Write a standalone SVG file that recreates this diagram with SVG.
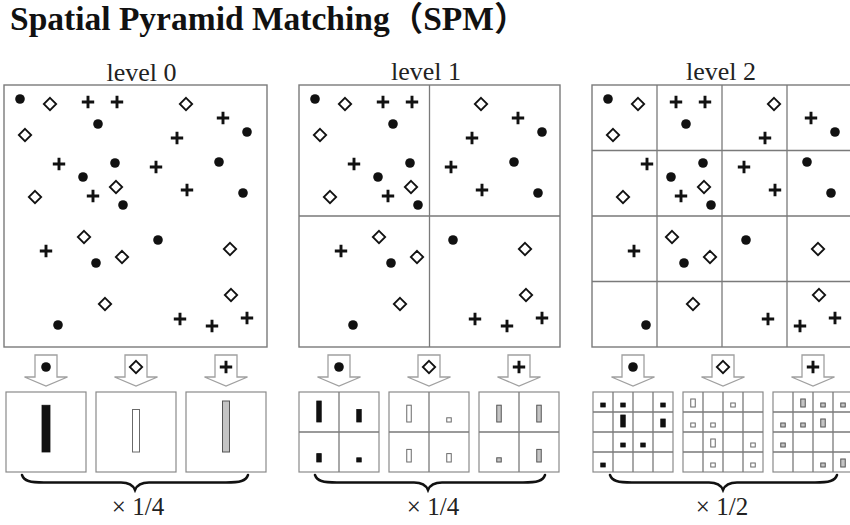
<svg xmlns="http://www.w3.org/2000/svg" xmlns:xlink="http://www.w3.org/1999/xlink" width="850" height="525" viewBox="0 0 850 525">
  <style>
    .title { font-family: "Liberation Serif", "Noto Sans CJK SC", serif; font-weight: bold; font-size: 33.5px; fill: #111; }
    .lvl { font-family: "Liberation Serif", serif; font-size: 26px; fill: #222; text-anchor: middle; }
    .wt { font-family: "Liberation Serif", serif; font-size: 25px; fill: #222; text-anchor: middle; }
    .frame { fill: #fff; stroke: #7a7a7a; stroke-width: 1.4; }
    .grid { fill: none; stroke: #7a7a7a; stroke-width: 1.3; }
    .hbox { fill: #fff; stroke: #8a8a8a; stroke-width: 1.2; }
    .arrow { fill: #fff; stroke: #a0a0a0; stroke-width: 1.3; stroke-linejoin: miter; }
    .brace { fill: none; stroke: #111; stroke-width: 2.5; stroke-linecap: round; }
    .b-black { fill: #111; stroke: #111; stroke-width: 0.8; }
    .b-white { fill: #fff; stroke: #6a6a6a; stroke-width: 1; }
    .b-gray { fill: #c4c4c4; stroke: #555; stroke-width: 1; }
  </style>
  <defs>
    <circle id="m-dot" r="4.8" fill="#111"/>
    <path id="m-dia" d="M0,-6.2 L6.2,0 L0,6.2 L-6.2,0 Z" fill="#fff" stroke="#111" stroke-width="1.8"/>
    <path id="m-plus" d="M-6.2,0 H6.2 M0,-6.2 V6.2" fill="none" stroke="#111" stroke-width="2.9"/>
    <!-- feature points of the image, drawn once and reused for every level -->
    <g id="pts">
      <use xlink:href="#m-dot" x="20" y="99"/>
      <use xlink:href="#m-dot" x="98" y="124"/>
      <use xlink:href="#m-dot" x="247" y="132"/>
      <use xlink:href="#m-dot" x="115" y="163"/>
      <use xlink:href="#m-dot" x="219" y="162"/>
      <use xlink:href="#m-dot" x="83" y="177"/>
      <use xlink:href="#m-dot" x="243" y="193"/>
      <use xlink:href="#m-dot" x="123" y="205"/>
      <use xlink:href="#m-dot" x="158" y="240"/>
      <use xlink:href="#m-dot" x="96" y="263"/>
      <use xlink:href="#m-dot" x="58" y="325"/>
      <use xlink:href="#m-dia" x="50" y="104"/>
      <use xlink:href="#m-dia" x="186" y="104"/>
      <use xlink:href="#m-dia" x="25" y="135"/>
      <use xlink:href="#m-dia" x="116" y="187"/>
      <use xlink:href="#m-dia" x="35" y="197"/>
      <use xlink:href="#m-dia" x="84" y="237"/>
      <use xlink:href="#m-dia" x="230" y="249"/>
      <use xlink:href="#m-dia" x="122" y="257"/>
      <use xlink:href="#m-dia" x="231" y="295"/>
      <use xlink:href="#m-dia" x="105" y="304"/>
      <use xlink:href="#m-plus" x="88" y="102"/>
      <use xlink:href="#m-plus" x="117" y="102"/>
      <use xlink:href="#m-plus" x="223" y="118"/>
      <use xlink:href="#m-plus" x="177" y="138"/>
      <use xlink:href="#m-plus" x="59" y="164"/>
      <use xlink:href="#m-plus" x="156" y="167"/>
      <use xlink:href="#m-plus" x="187" y="190"/>
      <use xlink:href="#m-plus" x="93" y="196"/>
      <use xlink:href="#m-plus" x="46" y="251"/>
      <use xlink:href="#m-plus" x="180" y="319"/>
      <use xlink:href="#m-plus" x="212" y="326"/>
      <use xlink:href="#m-plus" x="247" y="318"/>
    </g>
    <!-- block arrow pointing down, centred on x=0 -->
    <path id="arr" class="arrow" d="M-11,355 H11 V377 H21.5 L0,386 L-21.5,377 H-11 Z"/>
  </defs>

  <text class="title" x="10" y="29.5">Spatial Pyramid Matching（SPM）</text>

  <!-- level 0 -->
  <g id="level0">
    <text class="lvl" x="141.5" y="81" font-size="28">level 0</text>
    <rect class="frame" x="4" y="85" width="263" height="262"/>
    <use xlink:href="#pts"/>
    <g id="l0-arrows">
      <use xlink:href="#arr" x="46"/><use xlink:href="#m-dot" x="46" y="367"/>
      <use xlink:href="#arr" x="136"/><use xlink:href="#m-dia" x="136" y="367"/>
      <use xlink:href="#arr" x="226"/><use xlink:href="#m-plus" x="226" y="367"/>
    </g>
    <g id="l0-hist">
      <rect class="hbox" x="6" y="392" width="80" height="80"/>
      <rect class="hbox" x="96" y="392" width="80" height="80"/>
      <rect class="hbox" x="186" y="392" width="80" height="80"/>
      <rect class="b-black" x="42" y="405.25" width="8" height="46.75"/>
      <rect class="b-white" x="132.5" y="409.5" width="7" height="42.5"/>
      <rect class="b-gray" x="222.5" y="401" width="7" height="51"/>
    </g>
    <path class="brace" d="M22,475 C24,481 30,482.5 44,482.5 L121,482.5 C129,482.5 133,485 135,490 C137,485 141,482.5 149,482.5 L226,482.5 C240,482.5 246,481 248,475"/>
    <text class="wt" x="138" y="515">× 1/4</text>
  </g>

  <!-- level 1 -->
  <g id="level1">
    <text class="lvl" x="426" y="80">level 1</text>
    <rect class="frame" x="299" y="85" width="261" height="262"/>
    <path class="grid" d="M429.5,85 V347 M299,216 H560"/>
    <use xlink:href="#pts" transform="translate(295,0)"/>
    <g id="l1-arrows">
      <use xlink:href="#arr" x="339"/><use xlink:href="#m-dot" x="339" y="367"/>
      <use xlink:href="#arr" x="429"/><use xlink:href="#m-dia" x="429" y="367"/>
      <use xlink:href="#arr" x="519"/><use xlink:href="#m-plus" x="519" y="367"/>
    </g>
    <g id="l1-hist">
      <rect class="hbox" x="299" y="392" width="80" height="80"/>
      <rect class="hbox" x="389" y="392" width="80" height="80"/>
      <rect class="hbox" x="479" y="392" width="80" height="80"/>
      <path class="grid" d="M339,392 V472 M299,432 H379 M429,392 V472 M389,432 H469 M519,392 V472 M479,432 H559" stroke-width="1.1"/>
      <rect class="b-black" x="316.75" y="401" width="4.5" height="21"/>
      <rect class="b-black" x="356.75" y="409.4" width="4.5" height="12.6"/>
      <rect class="b-black" x="316.75" y="453.6" width="4.5" height="8.4"/>
      <rect class="b-black" x="356.75" y="457.8" width="4.5" height="4.2"/>
      <rect class="b-white" x="406.75" y="405.2" width="4.5" height="16.8"/>
      <rect class="b-white" x="446.75" y="417.8" width="4.5" height="4.2"/>
      <rect class="b-white" x="406.75" y="449.4" width="4.5" height="12.6"/>
      <rect class="b-white" x="446.75" y="453.6" width="4.5" height="8.4"/>
      <rect class="b-gray" x="496.75" y="405.2" width="4.5" height="16.8"/>
      <rect class="b-gray" x="536.75" y="405.2" width="4.5" height="16.8"/>
      <rect class="b-gray" x="496.75" y="457.8" width="4.5" height="4.2"/>
      <rect class="b-gray" x="536.75" y="449.4" width="4.5" height="12.6"/>
    </g>
    <path class="brace" d="M315,475 C317,481 323,482.5 337,482.5 L414,482.5 C422,482.5 426,485 428,490 C430,485 434,482.5 442,482.5 L523,482.5 C537,482.5 543,481 545,475"/>
    <text class="wt" x="433" y="515">× 1/4</text>
  </g>

  <!-- level 2 -->
  <g id="level2">
    <text class="lvl" x="721" y="80">level 2</text>
    <rect class="frame" x="592" y="85" width="260" height="262"/>
    <path class="grid" d="M657,85 V347 M722,85 V347 M787,85 V347 M592,150.5 H852 M592,216 H852 M592,281.5 H852"/>
    <use xlink:href="#pts" transform="translate(588,0)"/>
    <g id="l2-arrows">
      <use xlink:href="#arr" x="633"/><use xlink:href="#m-dot" x="633" y="367"/>
      <use xlink:href="#arr" x="723"/><use xlink:href="#m-dia" x="723" y="367"/>
      <use xlink:href="#arr" x="813"/><use xlink:href="#m-plus" x="813" y="367"/>
    </g>
    <g id="l2-hist">
      <rect class="hbox" x="593" y="392" width="80" height="80"/>
      <rect class="hbox" x="683" y="392" width="80" height="80"/>
      <rect class="hbox" x="773" y="392" width="80" height="80"/>
      <path class="grid" stroke-width="1.1" d="M613,392 V472 M633,392 V472 M653,392 V472 M593,412 H673 M593,432 H673 M593,452 H673 M703,392 V472 M723,392 V472 M743,392 V472 M683,412 H763 M683,432 H763 M683,452 H763 M793,392 V472 M813,392 V472 M833,392 V472 M773,412 H853 M773,432 H853 M773,452 H853"/>
      <rect class="b-black" x="600.75" y="403" width="4.5" height="4"/>
      <rect class="b-black" x="620.75" y="403" width="4.5" height="4"/>
      <rect class="b-black" x="660.75" y="403" width="4.5" height="4"/>
      <rect class="b-black" x="620.75" y="415" width="4.5" height="12"/>
      <rect class="b-black" x="660.75" y="419" width="4.5" height="8"/>
      <rect class="b-black" x="620.75" y="443" width="4.5" height="4"/>
      <rect class="b-black" x="640.75" y="443" width="4.5" height="4"/>
      <rect class="b-black" x="600.75" y="463" width="4.5" height="4"/>
      <rect class="b-white" x="690.75" y="399" width="4.5" height="8"/>
      <rect class="b-white" x="730.75" y="403" width="4.5" height="4"/>
      <rect class="b-white" x="690.75" y="423" width="4.5" height="4"/>
      <rect class="b-white" x="710.75" y="423" width="4.5" height="4"/>
      <rect class="b-white" x="710.75" y="439" width="4.5" height="8"/>
      <rect class="b-white" x="750.75" y="443" width="4.5" height="4"/>
      <rect class="b-white" x="710.75" y="463" width="4.5" height="4"/>
      <rect class="b-white" x="750.75" y="463" width="4.5" height="4"/>
      <rect class="b-gray" x="800.75" y="399" width="4.5" height="8"/>
      <rect class="b-gray" x="820.75" y="403" width="4.5" height="4"/>
      <rect class="b-gray" x="840.75" y="403" width="4.5" height="4"/>
      <rect class="b-gray" x="780.75" y="423" width="4.5" height="4"/>
      <rect class="b-gray" x="800.75" y="423" width="4.5" height="4"/>
      <rect class="b-gray" x="820.75" y="419" width="4.5" height="8"/>
      <rect class="b-gray" x="780.75" y="443" width="4.5" height="4"/>
      <rect class="b-gray" x="820.75" y="463" width="4.5" height="4"/>
      <rect class="b-gray" x="840.75" y="459" width="4.5" height="8"/>
    </g>
    <path class="brace" d="M610,475 C612,481 618,482.5 632,482.5 L709,482.5 C717,482.5 721,485 723,490 C725,485 729,482.5 737,482.5 L815,482.5 C829,482.5 835,481 837,475"/>
    <text class="wt" x="722" y="515">× 1/2</text>
  </g>
</svg>
